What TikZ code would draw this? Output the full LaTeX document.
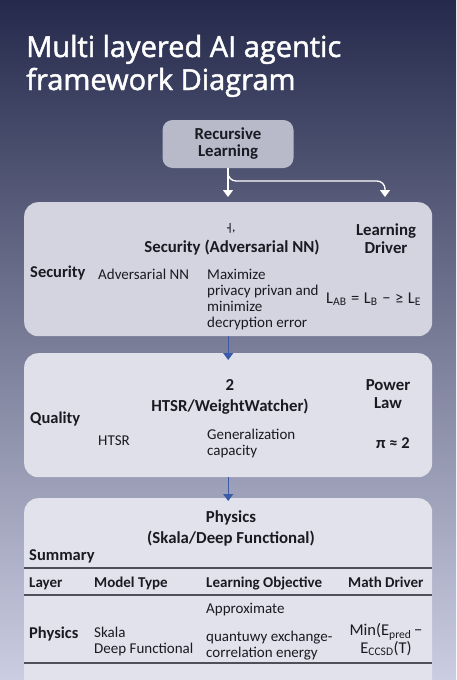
\documentclass[tikz,border=0pt]{standalone}
\usepackage{fontspec}
\setmainfont{Carlito}
\newfontfamily\titlefont{Open Sans}[FakeBold=1.6]
\usetikzlibrary{arrows.meta}
\definecolor{bgtop}{HTML}{252A4C}
\definecolor{bgbot}{HTML}{CBCEE2}
\definecolor{boxa}{HTML}{D3D4DF}
\definecolor{boxb}{HTML}{DFE0E9}
\definecolor{boxc}{HTML}{E1E2EB}
\definecolor{recbox}{HTML}{B9BAC9}
\definecolor{txt}{HTML}{1A1A22}
\definecolor{flow}{HTML}{3A5CA8}
\definecolor{rulec}{HTML}{4E4F58}
\begin{document}
\begin{tikzpicture}[x=1pt,y=-1pt,
  panel/.style={draw=none, rounded corners=14pt, inner sep=0pt, anchor=north west, minimum width=408pt},
  lbl/.style={anchor=base west, inner sep=0pt, text=txt, align=left, font=\fontsize{15}{16}\selectfont},
  hd/.style={lbl, font=\bfseries\fontsize{16.5}{18}\selectfont},
  th/.style={lbl, font=\bfseries\fontsize{15}{18}\selectfont},
  ctr/.style={anchor=base, inner sep=0pt, text=txt, align=center, font=\bfseries\fontsize{16.8}{18}\selectfont},
  warrow/.style={draw=white, line width=1.3pt, -{Triangle[width=10pt,length=7pt]}},
  barrow/.style={draw=flow, line width=1.3pt, -{Triangle[width=10pt,length=7pt]}},
  hrule/.style={draw=rulec, line width=1.4pt}]
\useasboundingbox (0,0) rectangle (456,680);
\shade[top color=bgtop, bottom color=bgbot] (0,0) rectangle (456,680);

% title (base anchor = last line baseline)
\node[anchor=base west, inner sep=0pt, text=white, align=left,
      font=\titlefont\fontsize{29}{33}\selectfont] (title) at (26,90)
      {Multi layered AI agentic\\framework Diagram};

% recursive learning
\node[fill=recbox, rounded corners=10pt, minimum width=131pt, minimum height=48pt,
      align=center, inner sep=0pt, text=txt, font=\bfseries\fontsize{16.8}{17}\selectfont]
      (rec) at (228,144) {Recursive\\Learning};

% panels
\node[panel, fill=boxa, minimum height=134pt] (sec) at (24,202) {};
\node[panel, fill=boxb, minimum height=124pt] (qual) at (24,353) {};
\node[panel, fill=boxc, minimum height=210pt] (phys) at (24,498) {};

% white arrows
\coordinate (ld) at (385,202);
\draw[warrow, shorten >=5pt] (rec.south) -- (rec.south |- sec.north);
\draw[warrow, rounded corners=8pt, shorten >=5pt] (rec.south) -- (228,181) -- (385,181) -- (ld);

% blue arrows
\draw[barrow, shorten >=-7pt] (sec.south) -- (qual.north);
\draw[barrow, shorten >=-3pt] (qual.south) -- (phys.north);

% security panel
\node[ctr, font=\bfseries\fontsize{11}{11}\selectfont] (glyph) at (231,231) {-\kern-2.5pt|\kern-0.5pt,};
\node[ctr] (sech) at (232,252) {Security (Adversarial NN)};
\node[ctr] (secd) at (386,253) {Learning\\Driver};
\node[hd] (secl) at (30,277) {Security};
\node[lbl] (secm) at (98,279) {Adversarial NN};
\node[lbl] (seco) at (207,327) {Maximize\\privacy privan and\\minimize\\decryption error};
\node[lbl, font=\fontsize{16.5}{18}\selectfont] (secf) at (326,303)
      {L\textsubscript{AB}\;=\;L\textsubscript{B}\;−\;≥\;L\textsubscript{E}};

% quality panel
\node[ctr, font=\bfseries\fontsize{16.8}{21}\selectfont] (qualh) at (230,411) {2\\HTSR/WeightWatcher)};
\node[ctr] (quald) at (388,408) {Power\\Law};
\node[hd] (quall) at (30,423) {Quality};
\node[lbl] (qualm) at (98,445) {HTSR};
\node[lbl] (qualo) at (207,455) {Generalization\\capacity};
\node[lbl, font=\bfseries\fontsize{16.5}{17}\selectfont] (qualf) at (376,448) {π ≈ 2};

% physics panel
\node[ctr, font=\bfseries\fontsize{16.8}{21}\selectfont] (physh) at (231,543) {Physics\\(Skala/Deep Functional)};
\node[hd] (summ) at (29,560) {Summary};
\draw[hrule] (sec.west |- 0,568) -- (sec.east |- 0,568);
\node[th] (c1) at (29,587) {Layer};
\node[th] (c2) at (94,587) {Model Type};
\node[th] (c3) at (206,587) {Learning Objective};
\node[th] (c4) at (348,587) {Math Driver};
\draw[hrule] (sec.west |- 0,595) -- (sec.east |- 0,595);
\node[lbl] (r3a) at (206,613) {Approximate};
\node[hd] (r1) at (29,638) {Physics};
\node[lbl] (r2) at (94,653) {Skala\\Deep Functional};
\node[lbl] (r3b) at (206,657) {quantuwy exchange-\\correlation energy};
\node[lbl, anchor=base, align=center, font=\fontsize{16.5}{16}\selectfont] (r4) at (386,653)
      {Min(E\textsubscript{pred}\,−\\E\textsubscript{CCSD}(T)};
\draw[hrule] (sec.west |- 0,663) -- (sec.east |- 0,663);
\end{tikzpicture}
\end{document}
